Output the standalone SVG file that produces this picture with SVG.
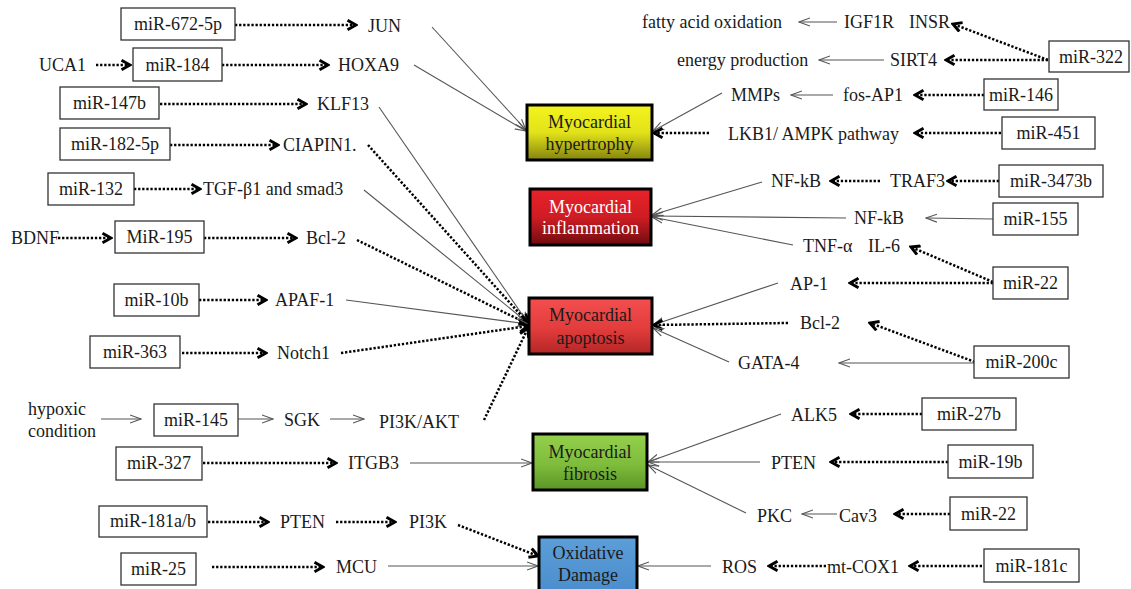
<svg xmlns="http://www.w3.org/2000/svg" width="1131" height="589" viewBox="0 0 1131 589">
<style>
text{font-family:"Liberation Serif","Times New Roman",Times,"Nimbus Roman","DejaVu Serif","Noto Serif",serif;font-size:18px;fill:#1a1a1a}
.c{text-anchor:middle}
.e{text-anchor:end}
.box{fill:#fff;stroke:#333;stroke-width:1.3}
.mb{stroke:#000;stroke-width:3}
.d{stroke:#000;stroke-width:2.5;stroke-dasharray:2.3 1.8;fill:none;marker-end:url(#dh)}
.t{stroke:#555;stroke-width:1.1;fill:none;marker-end:url(#th)}
</style>
<defs>
<marker id="dh" viewBox="0 0 12 12" refX="10" refY="6" markerWidth="12" markerHeight="12" markerUnits="userSpaceOnUse" orient="auto"><path d="M1.5,1.3 L10,6 L1.5,10.7" fill="none" stroke="#000" stroke-width="3"/></marker>
<marker id="th" viewBox="0 0 12 10" refX="11" refY="5" markerWidth="12" markerHeight="10" markerUnits="userSpaceOnUse" orient="auto"><path d="M0,1 L11,5 L0,9" fill="none" stroke="#555" stroke-width="1.1"/></marker>
<linearGradient id="gY" x1="0" y1="0" x2="0" y2="1"><stop offset="0" stop-color="#f4f41e"/><stop offset="0.5" stop-color="#e2e21a"/><stop offset="1" stop-color="#84840f"/></linearGradient>
<linearGradient id="gR" x1="0" y1="0" x2="0" y2="1"><stop offset="0" stop-color="#e8222a"/><stop offset="0.5" stop-color="#d01c24"/><stop offset="1" stop-color="#700c10"/></linearGradient>
<linearGradient id="gA" x1="0" y1="0" x2="0" y2="1"><stop offset="0" stop-color="#f44e4e"/><stop offset="0.55" stop-color="#e23c3c"/><stop offset="1" stop-color="#b42626"/></linearGradient>
<linearGradient id="gG" x1="0" y1="0" x2="0" y2="1"><stop offset="0" stop-color="#94d04c"/><stop offset="0.55" stop-color="#7fbc3c"/><stop offset="1" stop-color="#5a9426"/></linearGradient>
<linearGradient id="gB" x1="0" y1="0" x2="0" y2="1"><stop offset="0" stop-color="#5c9ed8"/><stop offset="1" stop-color="#4a8ccc"/></linearGradient>
</defs>
<rect width="1131" height="589" fill="#fff"/>

<g id="connectors">
<line class="d" x1="235" y1="25" x2="356" y2="25"/>
<line class="d" x1="96" y1="65" x2="130" y2="65"/>
<line class="d" x1="222" y1="65" x2="328" y2="65"/>
<line class="d" x1="160" y1="104" x2="306" y2="104"/>
<line class="d" x1="170" y1="145" x2="278" y2="145"/>
<line class="d" x1="134" y1="189" x2="200" y2="189"/>
<line class="d" x1="58" y1="238" x2="111" y2="238"/>
<line class="d" x1="204" y1="238" x2="296" y2="238"/>
<line class="d" x1="199" y1="300" x2="266" y2="300"/>
<line class="d" x1="182" y1="353" x2="266" y2="353"/>
<line class="t" x1="101" y1="419" x2="141" y2="419"/>
<line class="t" x1="238" y1="419" x2="273" y2="419"/>
<line class="t" x1="330" y1="419" x2="364" y2="419"/>
<line class="d" x1="203" y1="463" x2="336" y2="463"/>
<line class="d" x1="208" y1="522" x2="268" y2="522"/>
<line class="d" x1="336" y1="522" x2="395" y2="522"/>
<line class="d" x1="212" y1="567" x2="323" y2="567"/>
<line class="t" x1="432" y1="27" x2="526" y2="130"/>
<line class="t" x1="414" y1="65" x2="526" y2="131"/>
<line class="t" x1="379" y1="107" x2="528" y2="323"/>
<line class="d" x1="368" y1="145" x2="528" y2="323"/>
<line class="t" x1="364" y1="190" x2="528" y2="323"/>
<line class="d" x1="357" y1="240" x2="528" y2="324"/>
<line class="t" x1="346" y1="300" x2="528" y2="324"/>
<line class="d" x1="341" y1="353" x2="528" y2="326"/>
<line class="d" x1="484" y1="420" x2="528" y2="328"/>
<line class="t" x1="410" y1="463" x2="532" y2="463"/>
<line class="d" x1="458" y1="525" x2="538" y2="556"/>
<line class="t" x1="388" y1="566" x2="538" y2="566"/>
<line class="t" x1="837" y1="22" x2="799" y2="22"/>
<line class="d" x1="1048" y1="60" x2="953" y2="24"/>
<line class="d" x1="1048" y1="60" x2="946" y2="60"/>
<line class="t" x1="884" y1="60" x2="819" y2="60"/>
<line class="d" x1="984" y1="95" x2="915" y2="95"/>
<line class="t" x1="833" y1="95" x2="791" y2="95"/>
<line class="t" x1="722" y1="93" x2="653" y2="131"/>
<line class="d" x1="1001" y1="133" x2="915" y2="133"/>
<line class="d" x1="709" y1="133" x2="654" y2="133"/>
<line class="d" x1="999" y1="181" x2="948" y2="181"/>
<line class="d" x1="880" y1="181" x2="831" y2="181"/>
<line class="t" x1="762" y1="182" x2="652" y2="215"/>
<line class="t" x1="993" y1="219" x2="926" y2="218"/>
<line class="t" x1="846" y1="218" x2="652" y2="216"/>
<line class="t" x1="793" y1="245" x2="652" y2="217"/>
<line class="d" x1="993" y1="282" x2="911" y2="247"/>
<line class="d" x1="993" y1="283" x2="850" y2="283"/>
<line class="t" x1="778" y1="283" x2="653" y2="325"/>
<line class="d" x1="788" y1="323" x2="654" y2="325"/>
<line class="d" x1="975" y1="362" x2="870" y2="323"/>
<line class="t" x1="975" y1="363" x2="839" y2="363"/>
<line class="t" x1="729" y1="362" x2="653" y2="328"/>
<line class="d" x1="922" y1="414" x2="851" y2="414"/>
<line class="t" x1="781" y1="414" x2="648" y2="462"/>
<line class="d" x1="948" y1="462" x2="831" y2="462"/>
<line class="t" x1="760" y1="462" x2="648" y2="462"/>
<line class="d" x1="950" y1="514" x2="895" y2="514"/>
<line class="t" x1="837" y1="514" x2="802" y2="514"/>
<line class="t" x1="746" y1="513" x2="648" y2="465"/>
<line class="d" x1="982" y1="566" x2="910" y2="566"/>
<line class="d" x1="826" y1="566" x2="769" y2="566"/>
<line class="t" x1="711" y1="566" x2="638" y2="566"/>
</g>

<g id="hypertrophy"><rect class="mb" x="527" y="105" width="125" height="55" fill="url(#gY)"/><text class="c" x="589.5" y="128">Myocardial</text><text class="c" x="589.5" y="150">hypertrophy</text></g>
<g id="inflammation"><rect class="mb" x="530" y="189" width="121" height="56" fill="url(#gR)"/><text class="c" x="590.5" y="213" style="fill:#fff">Myocardial</text><text class="c" x="590.5" y="234" style="fill:#fff">inflammation</text></g>
<g id="apoptosis"><rect class="mb" x="529" y="298" width="123" height="56" fill="url(#gA)"/><text class="c" x="590.5" y="321">Myocardial</text><text class="c" x="590.5" y="344">apoptosis</text></g>
<g id="fibrosis"><rect class="mb" x="533" y="434" width="114" height="56" fill="url(#gG)"/><text class="c" x="590" y="458">Myocardial</text><text class="c" x="590" y="480">fibrosis</text></g>
<g id="oxidative"><rect class="mb" x="539" y="537" width="98" height="62" fill="url(#gB)"/><text class="c" x="588" y="559">Oxidative</text><text class="c" x="588" y="581">Damage</text></g>

<g id="miR-672-5p"><rect class="box" x="121" y="8" width="114" height="32"/><text class="c" x="178" y="30">miR-672-5p</text></g>
<g id="JUN"><text x="368" y="32">JUN</text></g>
<g id="UCA1"><text x="39" y="71">UCA1</text></g>
<g id="miR-184"><rect class="box" x="133" y="48" width="89" height="33"/><text class="c" x="177.5" y="71">miR-184</text></g>
<g id="HOXA9"><text x="338" y="71">HOXA9</text></g>
<g id="miR-147b"><rect class="box" x="60" y="87" width="99" height="32"/><text class="c" x="109.5" y="109">miR-147b</text></g>
<g id="KLF13"><text x="317" y="110">KLF13</text></g>
<g id="miR-182-5p"><rect class="box" x="60" y="128" width="110" height="32"/><text class="c" x="115" y="150">miR-182-5p</text></g>
<g id="CIAPIN1"><text x="283" y="151">CIAPIN1.</text></g>
<g id="miR-132"><rect class="box" x="48" y="173" width="86" height="32"/><text class="c" x="91" y="195">miR-132</text></g>
<g id="TGF"><text x="203" y="195">TGF-β1 and smad3</text></g>
<g id="BDNF"><text x="11" y="244">BDNF</text></g>
<g id="MiR-195"><rect class="box" x="115" y="221" width="89" height="32"/><text class="c" x="159.5" y="243">MiR-195</text></g>
<g id="Bcl-2-left"><text x="306" y="244">Bcl-2</text></g>
<g id="miR-10b"><rect class="box" x="114" y="284" width="85" height="32"/><text class="c" x="156.5" y="306">miR-10b</text></g>
<g id="APAF-1"><text x="275" y="306">APAF-1</text></g>
<g id="miR-363"><rect class="box" x="90" y="336" width="90" height="32"/><text class="c" x="135" y="358">miR-363</text></g>
<g id="Notch1"><text x="277" y="359">Notch1</text></g>
<g id="hypoxic"><text x="28" y="415">hypoxic</text><text x="28" y="437">condition</text></g>
<g id="miR-145"><rect class="box" x="154" y="404" width="84" height="32"/><text class="c" x="196" y="426">miR-145</text></g>
<g id="SGK"><text x="284" y="426">SGK</text></g>
<g id="PI3K-AKT"><text x="379" y="428">PI3K/AKT</text></g>
<g id="miR-327"><rect class="box" x="116" y="447" width="86" height="33"/><text class="c" x="159" y="469">miR-327</text></g>
<g id="ITGB3"><text x="348" y="469">ITGB3</text></g>
<g id="miR-181ab"><rect class="box" x="99" y="506" width="108" height="31"/><text class="c" x="153" y="527">miR-181a/b</text></g>
<g id="PTEN-left"><text x="280" y="528">PTEN</text></g>
<g id="PI3K"><text x="409" y="528">PI3K</text></g>
<g id="miR-25"><rect class="box" x="121" y="553" width="75" height="32"/><text class="c" x="158.5" y="575">miR-25</text></g>
<g id="MCU"><text x="336" y="573">MCU</text></g>

<g id="fatty"><text x="642" y="28">fatty acid oxidation</text></g>
<g id="IGF1R-INSR"><text x="844" y="28">IGF1R</text><text class="e" x="950" y="28">INSR</text></g>
<g id="miR-322"><rect class="box" x="1049" y="41" width="80" height="31"/><text class="c" x="1091" y="63">miR-322</text></g>
<g id="energy"><text x="677" y="66">energy production</text></g>
<g id="SIRT4"><text x="890" y="66">SIRT4</text></g>
<g id="MMPs"><text x="731" y="101">MMPs</text></g>
<g id="fos-AP1"><text x="843" y="101">fos-AP1</text></g>
<g id="miR-146"><rect class="box" x="984" y="79" width="74" height="31"/><text class="c" x="1021" y="101">miR-146</text></g>
<g id="LKB1"><text x="728" y="140">LKB1/ AMPK pathway</text></g>
<g id="miR-451"><rect class="box" x="1002" y="117" width="93" height="32"/><text class="c" x="1048.5" y="139">miR-451</text></g>
<g id="NF-kB-1"><text x="771" y="187">NF-kB</text></g>
<g id="TRAF3"><text x="890" y="187">TRAF3</text></g>
<g id="miR-3473b"><rect class="box" x="999" y="165" width="104" height="32"/><text class="c" x="1051" y="187">miR-3473b</text></g>
<g id="NF-kB-2"><text x="854" y="224">NF-kB</text></g>
<g id="miR-155"><rect class="box" x="993" y="203" width="85" height="32"/><text class="c" x="1035.5" y="225">miR-155</text></g>
<g id="TNF-IL6"><text x="803" y="252">TNF-α</text><text class="e" x="900" y="252">IL-6</text></g>
<g id="miR-22-a"><rect class="box" x="993" y="267" width="75" height="32"/><text class="c" x="1030.5" y="289">miR-22</text></g>
<g id="AP-1"><text x="790" y="290">AP-1</text></g>
<g id="Bcl-2-right"><text x="800" y="329">Bcl-2</text></g>
<g id="GATA-4"><text x="738" y="369">GATA-4</text></g>
<g id="miR-200c"><rect class="box" x="974" y="346" width="95" height="32"/><text class="c" x="1021.5" y="368">miR-200c</text></g>
<g id="ALK5"><text x="791" y="421">ALK5</text></g>
<g id="miR-27b"><rect class="box" x="922" y="398" width="94" height="32"/><text class="c" x="969" y="420">miR-27b</text></g>
<g id="PTEN-right"><text x="771" y="469">PTEN</text></g>
<g id="miR-19b"><rect class="box" x="948" y="445" width="85" height="33"/><text class="c" x="990.5" y="468">miR-19b</text></g>
<g id="PKC"><text x="757" y="522">PKC</text></g>
<g id="Cav3"><text x="839" y="522">Cav3</text></g>
<g id="miR-22-b"><rect class="box" x="950" y="497" width="77" height="33"/><text class="c" x="988.5" y="520">miR-22</text></g>
<g id="ROS"><text x="722" y="573">ROS</text></g>
<g id="mt-COX1"><text x="827" y="573">mt-COX1</text></g>
<g id="miR-181c"><rect class="box" x="984" y="549" width="95" height="33"/><text class="c" x="1031.5" y="572">miR-181c</text></g>
</svg>
